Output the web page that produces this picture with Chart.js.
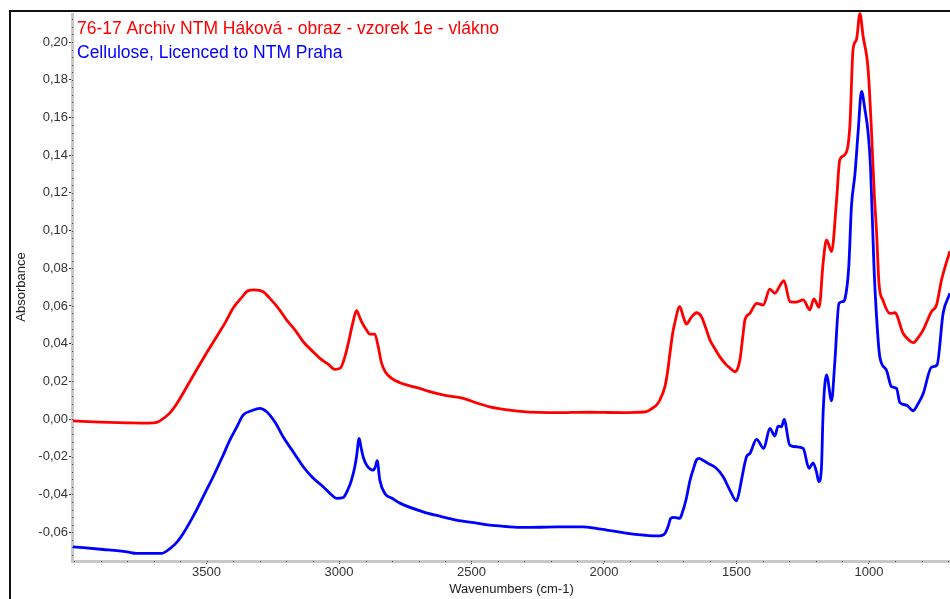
<!DOCTYPE html>
<html>
<head>
<meta charset="utf-8">
<style>
  html, body { margin: 0; padding: 0; background: #fff; overflow: hidden; }
  #wrap { width: 950px; height: 599px; position: relative; }
</style>
<script src="https://cdn.jsdelivr.net/npm/chart.js@4.4.0/dist/chart.umd.min.js"></script>
</head>
<body>
<div id="wrap"><canvas id="spectrum" width="950" height="599"></canvas></div>
<script>
// Sample spectrum (red)
const sampleLabel = '76-17 Archiv NTM Háková - obraz - vzorek 1e - vlákno';
const sampleWave = [4004, 3900, 3800, 3720, 3688, 3676, 3640, 3613, 3575, 3538, 3500, 3462, 3430, 3400, 3370, 3343, 3320, 3286, 3261, 3230, 3198, 3165, 3135, 3100, 3072, 3040, 3016, 2995, 2978, 2965, 2948, 2934, 2922, 2915, 2895, 2884, 2865, 2852, 2840, 2825, 2800, 2770, 2730, 2690, 2657, 2600, 2531, 2480, 2431, 2370, 2305, 2240, 2179, 2120, 2053, 2000, 1928, 1870, 1840, 1815, 1802, 1789, 1770, 1760, 1751, 1740, 1733, 1714, 1700, 1689, 1670, 1651, 1632, 1615, 1600, 1580, 1563, 1540, 1520, 1506, 1495, 1487, 1475, 1468, 1449, 1424, 1399, 1374, 1355, 1335, 1321, 1298, 1275, 1248, 1223, 1208, 1188, 1173, 1160, 1141, 1122, 1110, 1091, 1072, 1060, 1047, 1034, 1022, 1003, 990, 980, 971, 962, 947, 921, 902, 871, 850, 833, 815, 795, 764, 745, 726, 710, 694];
const sampleAbs = [-0.001, -0.0016, -0.002, -0.0022, -0.0018, -0.001, 0.003, 0.008, 0.017, 0.026, 0.035, 0.0437, 0.051, 0.0588, 0.064, 0.0681, 0.0685, 0.0675, 0.064, 0.059, 0.0526, 0.047, 0.041, 0.036, 0.0322, 0.029, 0.0264, 0.027, 0.033, 0.0402, 0.051, 0.0575, 0.054, 0.0517, 0.047, 0.0451, 0.0451, 0.0384, 0.030, 0.025, 0.0215, 0.0193, 0.0175, 0.016, 0.0145, 0.0125, 0.011, 0.0085, 0.0065, 0.005, 0.0039, 0.0035, 0.0034, 0.0035, 0.0036, 0.0035, 0.0034, 0.0036, 0.0039, 0.006, 0.0074, 0.0101, 0.0172, 0.025, 0.0349, 0.046, 0.0508, 0.0596, 0.054, 0.0504, 0.054, 0.0564, 0.0543, 0.048, 0.0419, 0.037, 0.0331, 0.029, 0.0265, 0.0251, 0.027, 0.0313, 0.045, 0.0526, 0.0561, 0.0614, 0.0605, 0.0689, 0.0667, 0.071, 0.0734, 0.0623, 0.062, 0.0632, 0.0579, 0.0637, 0.0593, 0.0827, 0.0951, 0.0888, 0.1163, 0.1376, 0.1402, 0.1553, 0.196, 0.2013, 0.2151, 0.2031, 0.1854, 0.1518, 0.12, 0.0986, 0.072, 0.063, 0.0561, 0.0564, 0.0455, 0.042, 0.0405, 0.043, 0.0473, 0.057, 0.0605, 0.0738, 0.082, 0.089];

// Reference spectrum (blue)
const refLabel = 'Cellulose, Licenced to NTM Praha';
const refWave = [4004, 3890, 3800, 3764, 3670, 3638, 3610, 3588, 3560, 3538, 3505, 3475, 3440, 3412, 3385, 3362, 3330, 3299, 3273, 3240, 3211, 3170, 3135, 3100, 3060, 3030, 3009, 2984, 2965, 2953, 2940, 2934, 2924, 2917, 2909, 2896, 2871, 2862, 2856, 2846, 2827, 2800, 2770, 2683, 2620, 2557, 2490, 2431, 2370, 2305, 2240, 2179, 2120, 2079, 2030, 1990, 1940, 1890, 1840, 1802, 1780, 1770, 1758, 1748, 1735, 1714, 1705, 1689, 1676, 1664, 1650, 1641, 1625, 1607, 1575, 1550, 1525, 1500, 1490, 1481, 1462, 1449, 1424, 1397, 1374, 1355, 1343, 1330, 1320, 1299, 1273, 1248, 1226, 1211, 1198, 1189, 1179, 1173, 1160, 1141, 1129, 1113, 1098, 1090, 1076, 1066, 1053, 1041, 1028, 1015, 1003, 994, 981, 972, 959, 934, 915, 896, 883, 858, 833, 815, 795, 764, 743, 720, 694];
const refAbs = [-0.0678, -0.0692, -0.0705, -0.0713, -0.0713, -0.0687, -0.065, -0.0607, -0.054, -0.0483, -0.039, -0.0306, -0.020, -0.0112, -0.004, 0.0021, 0.0044, 0.0057, 0.0039, -0.002, -0.0094, -0.018, -0.0253, -0.031, -0.0359, -0.040, -0.0421, -0.0416, -0.037, -0.0324, -0.025, -0.02, -0.0103, -0.015, -0.02, -0.0244, -0.0271, -0.025, -0.0221, -0.0324, -0.0395, -0.042, -0.0446, -0.0492, -0.0515, -0.0536, -0.055, -0.0563, -0.057, -0.0575, -0.0574, -0.0572, -0.0572, -0.0572, -0.058, -0.0589, -0.060, -0.0611, -0.0617, -0.062, -0.0617, -0.0607, -0.057, -0.0527, -0.0522, -0.0527, -0.050, -0.042, -0.033, -0.0271, -0.0215, -0.0209, -0.022, -0.0235, -0.0262, -0.0306, -0.0377, -0.0434, -0.039, -0.0324, -0.02, -0.0182, -0.0108, -0.0156, -0.0049, -0.009, -0.0037, -0.0041, -0.0002, -0.0138, -0.0147, -0.0156, -0.0262, -0.0232, -0.028, -0.0333, -0.0253, 0.003, 0.0234, 0.0097, 0.0296, 0.0614, 0.0623, 0.064, 0.0809, 0.1128, 0.1296, 0.1518, 0.1738, 0.1641, 0.1518, 0.134, 0.0809, 0.0561, 0.0331, 0.026, 0.0172, 0.0163, 0.0087, 0.0074, 0.0044, 0.008, 0.0136, 0.0275, 0.0287, 0.0561, 0.0667];

// Axis ticks
const waveTicks = [3500, 3000, 2500, 2000, 1500, 1000];
const absTicks = [-0.06, -0.04, -0.02, 0, 0.02, 0.04, 0.06, 0.08, 0.10, 0.12, 0.14, 0.16, 0.18, 0.20];

const xMin = 694, xMax = 4004;
const yMin = -0.0753, yMax = 0.2154;
const axisFont = '"Liberation Sans", Arial, sans-serif';

function toPoints(xs, ys) {
    return xs.map((x, i) => ({ x: x, y: ys[i] }));
}

// frame, axis bands, minor dots and the legend text
const spectrumDecor = {
    id: 'spectrumDecor',
    beforeDatasetsDraw(chart) {
        const ctx = chart.ctx;
        const area = chart.chartArea;
        const xs = chart.scales.x, ys = chart.scales.y;
        ctx.save();
        ctx.fillStyle = '#c8c8c8';
        ctx.fillRect(area.left - 2, area.top, 3, area.bottom - area.top + 1);
        ctx.fillRect(area.left - 2, area.bottom - 1, area.right - area.left + 2, 3);
        ctx.fillStyle = '#444';
        for (let w = 700; w <= 4000; w += 100) {
            const px = xs.getPixelForValue(w);
            ctx.fillRect(Math.round(px), area.bottom, 1, 1);
        }
        for (let v = -0.072; v <= 0.214; v += 0.004) {
            const py = ys.getPixelForValue(v);
            ctx.fillRect(area.left - 1, Math.round(py), 1, 1);
        }
        ctx.restore();
    },
    afterDraw(chart) {
        const ctx = chart.ctx;
        const area = chart.chartArea;
        ctx.save();
        ctx.fillStyle = '#111';
        ctx.fillRect(9, 10, 2, 589);
        ctx.fillRect(9, 10, 941, 2);
        ctx.font = '17.5px ' + axisFont;
        ctx.textBaseline = 'alphabetic';
        chart.data.datasets.forEach((ds, i) => {
            ctx.fillStyle = ds.borderColor;
            ctx.fillText(ds.label, area.left + 4, 34 + i * 24);
        });
        ctx.restore();
    }
};

const ctx = document.getElementById('spectrum').getContext('2d');
const spectrumChart = new Chart(ctx, {
    type: 'line',
    data: {
        datasets: [{
            label: sampleLabel,
            data: toPoints(sampleWave, sampleAbs),
            borderColor: '#ff0000',
            borderWidth: 2.8,
            pointRadius: 0,
            cubicInterpolationMode: 'monotone'
        }, {
            label: refLabel,
            data: toPoints(refWave, refAbs),
            borderColor: '#0000ff',
            borderWidth: 2.8,
            pointRadius: 0,
            cubicInterpolationMode: 'monotone'
        }]
    },
    options: {
        responsive: false,
        animation: false,
        clip: false,
        layout: {
            padding: { top: 13, left: 10, right: 0, bottom: 0 }
        },
        plugins: {
            legend: { display: false },
            tooltip: { enabled: false }
        },
        scales: {
            x: {
                type: 'linear',
                reverse: true,
                min: xMin,
                max: xMax,
                afterFit: function(scale) { scale.height = 38; },
                afterBuildTicks: function(scale) {
                    scale.ticks = waveTicks.map(v => ({ value: v }));
                },
                ticks: {
                    autoSkip: false,
                    maxRotation: 0,
                    padding: 1,
                    color: '#333',
                    font: { size: 13, family: axisFont },
                    callback: function(value) { return String(value); }
                },
                grid: {
                    drawOnChartArea: false,
                    drawTicks: true,
                    tickLength: 3,
                    color: '#333'
                },
                border: { display: false },
                title: {
                    display: true,
                    text: 'Wavenumbers (cm-1)',
                    color: '#222',
                    padding: { top: 0, bottom: 2 },
                    font: { size: 13, family: axisFont }
                }
            },
            y: {
                min: yMin,
                max: yMax,
                afterFit: function(scale) { scale.width = 63; },
                afterBuildTicks: function(scale) {
                    scale.ticks = absTicks.map(v => ({ value: v }));
                },
                ticks: {
                    autoSkip: false,
                    padding: 1,
                    color: '#333',
                    font: { size: 13, family: axisFont },
                    callback: function(value) {
                        return value.toFixed(2).replace('.', ',');
                    }
                },
                grid: {
                    drawOnChartArea: false,
                    drawTicks: true,
                    tickLength: 4,
                    color: '#333'
                },
                border: { display: false },
                title: {
                    display: true,
                    text: 'Absorbance',
                    color: '#222',
                    padding: { top: 4, bottom: 0 },
                    font: { size: 13, family: axisFont }
                }
            }
        }
    },
    plugins: [spectrumDecor]
});
</script>
</body>
</html>
